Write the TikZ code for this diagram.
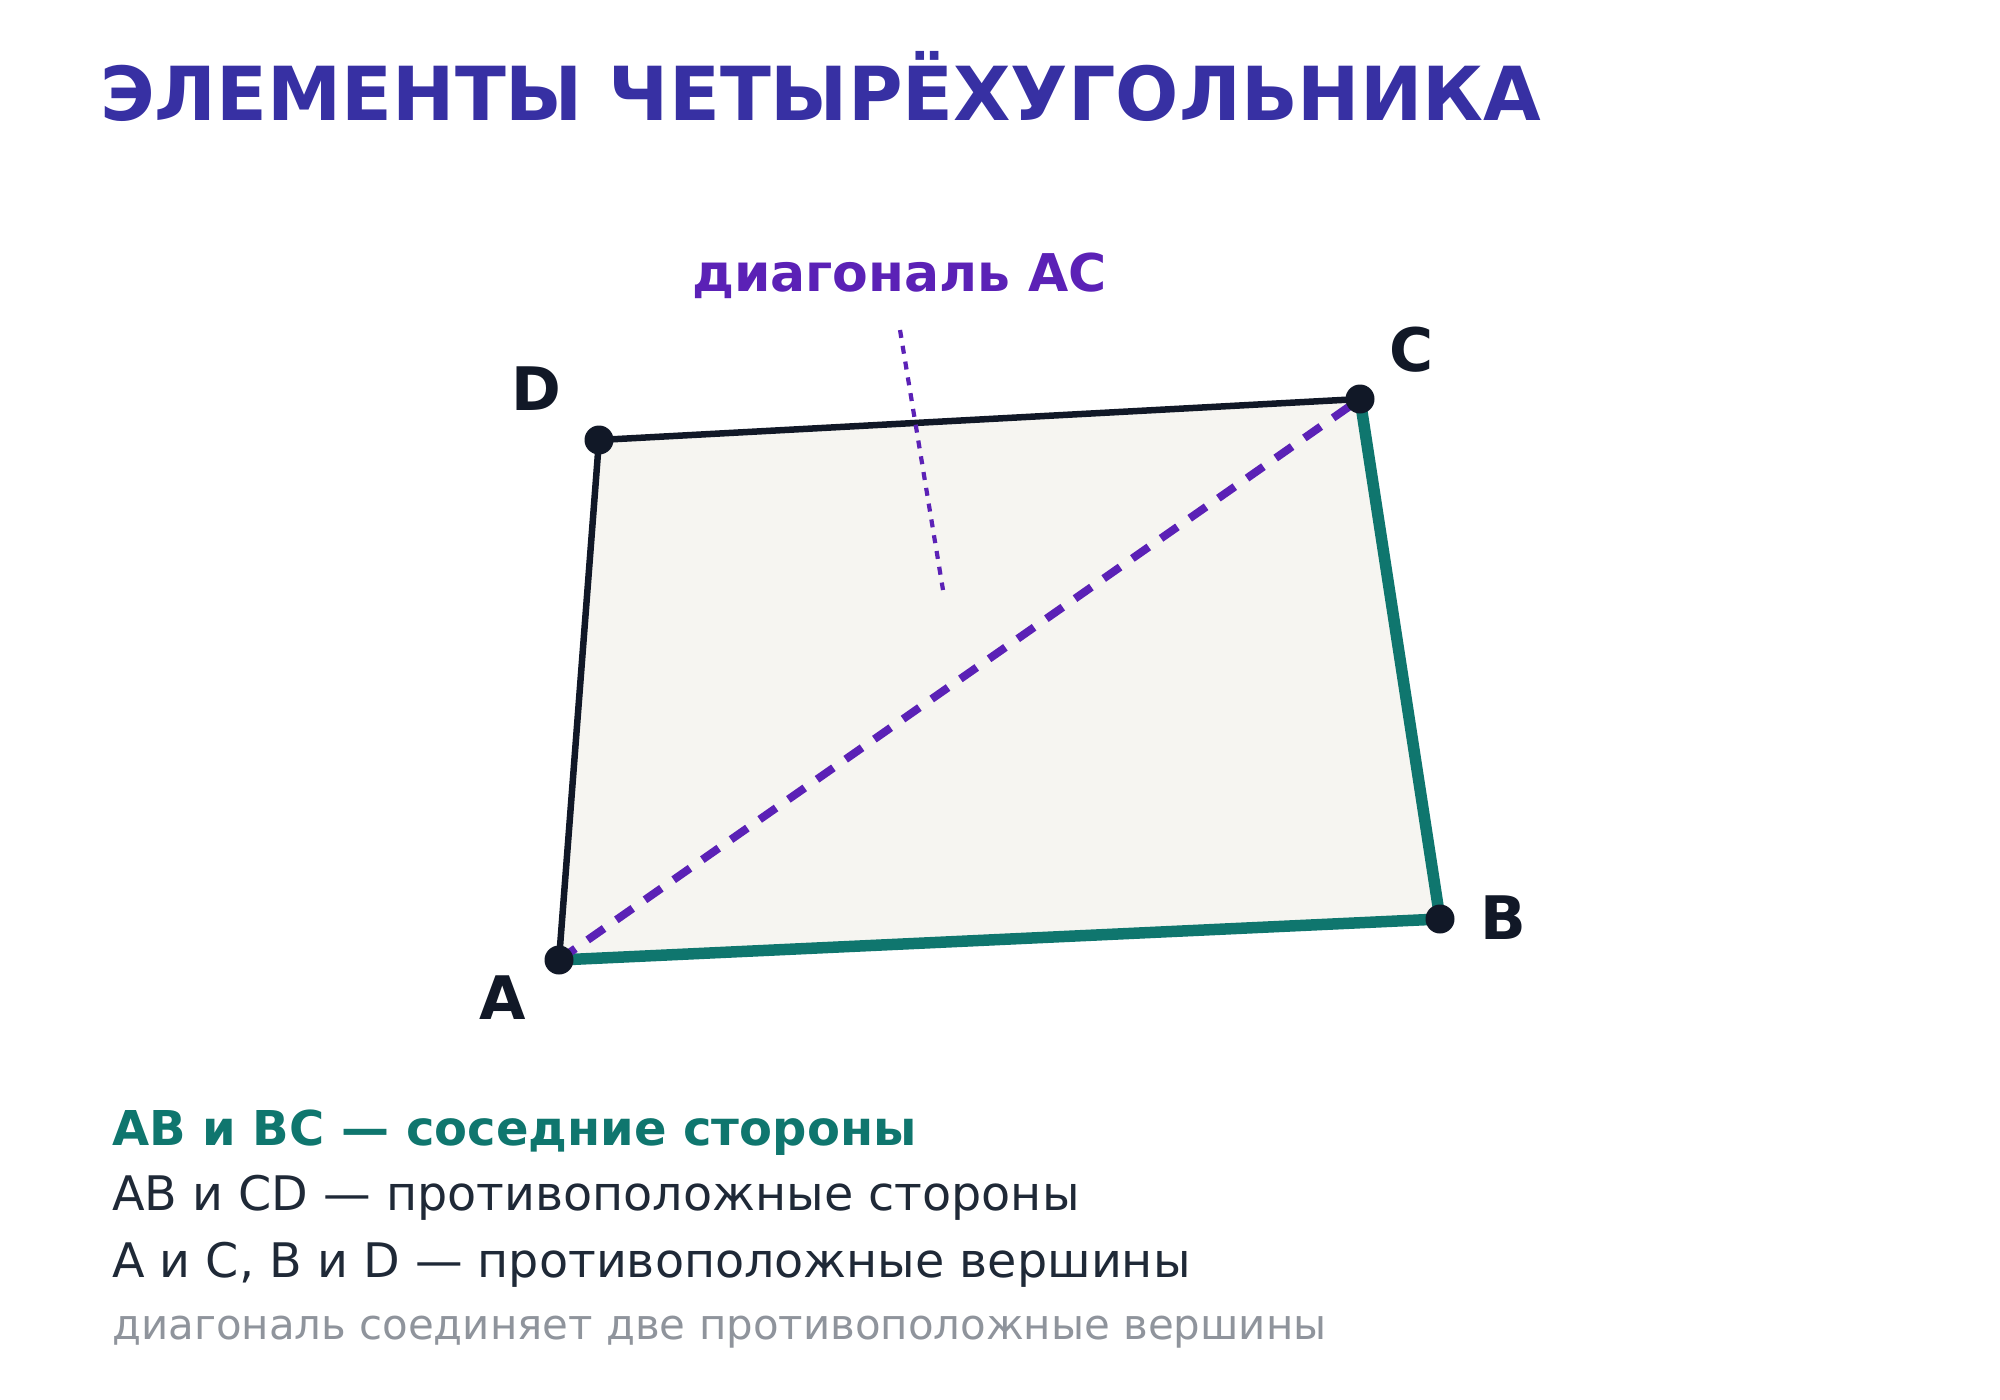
\documentclass[tikz,border=0pt]{standalone}
\usepackage{fontspec}
\setmainfont{DejaVu Sans}
\definecolor{titlec}{HTML}{3730A3}
\definecolor{violetc}{HTML}{5B21B6}
\definecolor{tealc}{HTML}{0F766E}
\definecolor{darkc}{HTML}{111827}
\definecolor{textc}{HTML}{1F2937}
\definecolor{grayc}{HTML}{8F949C}
\definecolor{fillc}{HTML}{F6F5F1}
\tikzset{
  vlabel/.style={anchor=base, inner sep=0pt, text=darkc, font=\fontsize{60}{72}\selectfont\bfseries},
  txt/.style={anchor=base west, inner sep=0pt},
  darkedge/.style={draw=darkc, line width=6.5pt},
  greenedge/.style={draw=tealc, line width=11.5pt},
  diag/.style={draw=violetc, line width=8pt, dash pattern=on 20pt off 15pt},
  leader/.style={draw=violetc, line width=4.2pt, dash pattern=on 8pt off 8pt},
  vertex/.style={fill=darkc}
}
\begin{document}
\begin{tikzpicture}[x=1pt,y=-1pt]
\useasboundingbox (0,0) rectangle (2000,1400);
\fill[white] (0,0) rectangle (2000,1400);
\coordinate (A) at (559,960);
\coordinate (B) at (1440,919);
\coordinate (C) at (1360,399);
\coordinate (D) at (599,440);
\coordinate (L1) at (900,330);
\coordinate (L2) at (943,590);
\node[txt, text=titlec, font=\fontsize{74.5}{88}\selectfont\bfseries] (title) at (100,120) {ЭЛЕМЕНТЫ ЧЕТЫРЁХУГОЛЬНИКА};
\fill[fillc] (A) -- (B) -- (C) -- (D) -- cycle;
\draw[darkedge] (A) -- (D) -- (C);
\draw[greenedge, line join=round] (A) -- (B) -- (C);
\draw[diag] (A) -- (C);
\draw[leader] (L1) -- (L2);
\foreach \p in {A,B,C,D} \fill[vertex] (\p) circle (14.5);
\node[vlabel] (lA) at (503,1019) {A};
\node[vlabel] (lB) at (1503,939) {B};
\node[vlabel] (lC) at (1412,371) {C};
\node[vlabel] (lD) at (536,410) {D};
\node[txt, text=violetc, font=\fontsize{52}{62}\selectfont\bfseries] (dlabel) at (692,291) {диагональ AC};
\node[txt, text=tealc, font=\fontsize{48}{58}\selectfont\bfseries] (t1) at (112,1145) {AB и BC — соседние стороны};
\node[txt, text=textc, font=\fontsize{47.6}{58}\selectfont] (t2) at (112,1210) {AB и CD — противоположные стороны};
\node[txt, text=textc, font=\fontsize{47.6}{58}\selectfont] (t3) at (112,1277) {A и C, B и D — противоположные вершины};
\node[txt, text=grayc, font=\fontsize{41.9}{50}\selectfont] (t4) at (112,1339) {диагональ соединяет две противоположные вершины};
\end{tikzpicture}
\end{document}
